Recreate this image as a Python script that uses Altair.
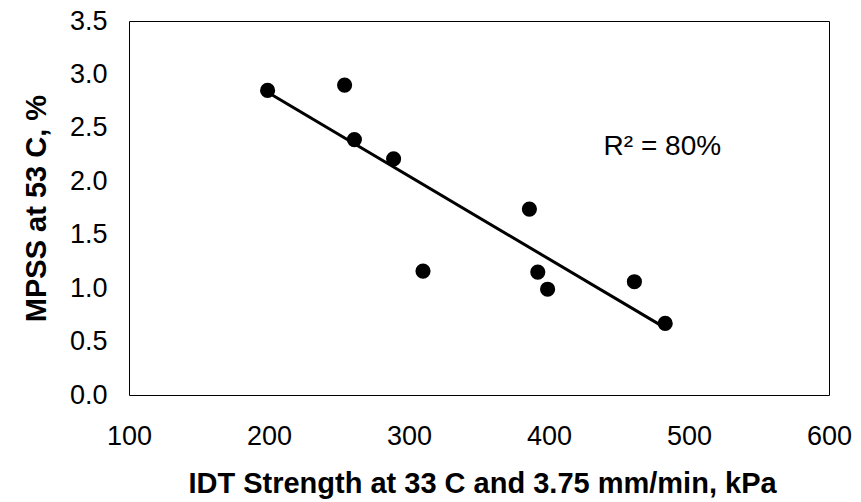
import altair as alt
import pandas as pd

# Data
idt_strength = [199, 254, 261, 289, 310, 386, 392, 399, 461, 483]
mpss = [2.85, 2.90, 2.39, 2.21, 1.16, 1.74, 1.15, 0.99, 1.06, 0.67]

x_ticks = [100, 200, 300, 400, 500, 600]
y_ticks = [0.0, 0.5, 1.0, 1.5, 2.0, 2.5, 3.0, 3.5]

note_text = ["R² = 80%"]
note_x = [439]
note_y = [2.245]

df = pd.DataFrame({"x": idt_strength, "y": mpss})
note_df = pd.DataFrame({"x": note_x, "y": note_y, "t": note_text})

FONT = "Liberation Sans"

xscale = alt.Scale(domain=[100, 600], nice=False, zero=False)
yscale = alt.Scale(domain=[0, 3.5], nice=False)

xaxis = alt.Axis(
    values=x_ticks, format="d", grid=False, ticks=False, tickSize=0, domain=False,
    labelFlush=False, labelOverlap=False,
    labelFontSize=27, labelColor="black", labelPadding=28, labelFont=FONT,
    title="IDT Strength at 33 C and 3.75 mm/min, kPa",
    titleFontSize=29, titleFontWeight="bold", titleColor="black", titleFont=FONT,
    titleX=353, titleY=97, titleAlign="center", titleBaseline="alphabetic",
)
yaxis = alt.Axis(
    values=y_ticks, format=".1f", grid=False, ticks=False, tickSize=0, domain=False,
    labelFlush=False, labelOverlap=False,
    labelFontSize=27, labelColor="black", labelPadding=22, labelFont=FONT,
    title="MPSS at 53 C, %",
    titleFontSize=29, titleFontWeight="bold", titleColor="black", titleFont=FONT,
    titleAngle=270, titleX=-84, titleY=187, titleAlign="center", titleBaseline="alphabetic",
)

base = alt.Chart(df)

points = base.mark_circle(size=230, color="black", opacity=1).encode(
    x=alt.X("x:Q", scale=xscale, axis=xaxis),
    y=alt.Y("y:Q", scale=yscale, axis=yaxis),
)

trend = base.transform_regression("x", "y").mark_line(
    color="black", strokeWidth=3
).encode(
    x=alt.X("x:Q", scale=xscale),
    y=alt.Y("y:Q", scale=yscale),
)

note = alt.Chart(note_df).mark_text(
    align="left", baseline="alphabetic", fontSize=28, font=FONT, color="black"
).encode(
    x=alt.X("x:Q", scale=xscale),
    y=alt.Y("y:Q", scale=yscale),
    text="t:N",
)

chart = alt.layer(trend, points, note).properties(
    width=700,
    height=374,
    autosize=alt.AutoSizeParams(type="none"),
    padding={"left": 129, "top": 21, "right": 32, "bottom": 107},
    background="white",
).configure_view(
    stroke="black", strokeWidth=1, fill="white"
)

chart.save("out.html", embed_options={"renderer": "svg", "actions": False})
